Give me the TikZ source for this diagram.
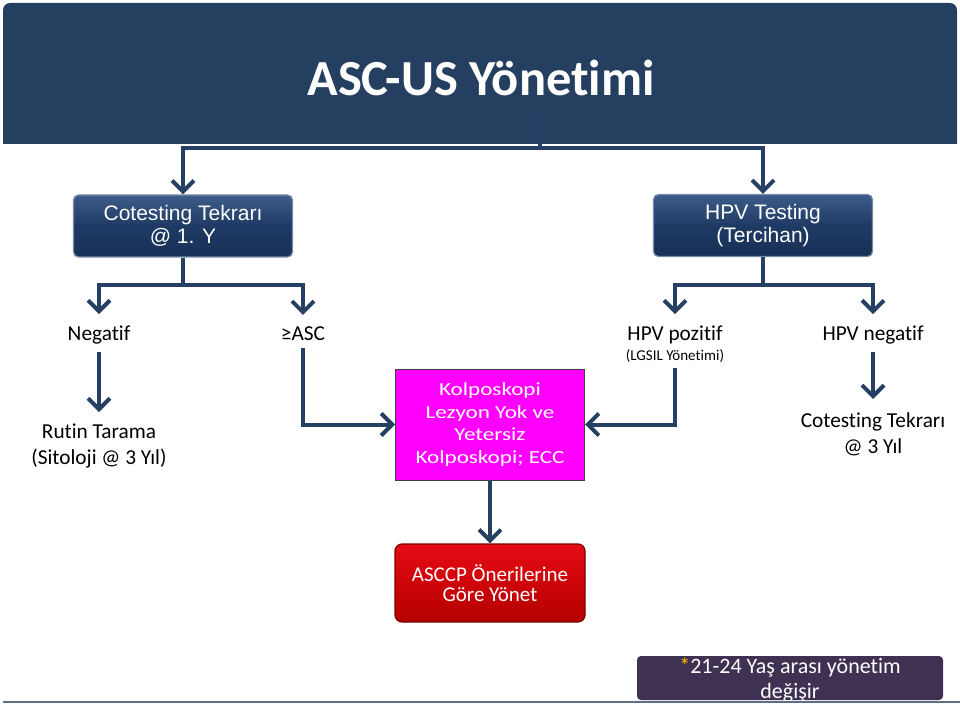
\documentclass[tikz,border=0pt]{standalone}
\usepackage{fontspec}
\setmainfont[Ligatures=NoCommon]{Carlito}
\newfontfamily\arialf{Liberation Sans}
\newfontfamily\widef[FakeStretch=1.25,Ligatures=NoCommon]{Carlito}
\usetikzlibrary{arrows.meta}
\definecolor{navy}{RGB}{36,63,96}
\definecolor{lineblue}{RGB}{37,64,99}
\definecolor{boxtop}{RGB}{62,92,138}
\definecolor{boxmid}{RGB}{30,58,100}
\definecolor{boxbot}{RGB}{24,48,86}
\definecolor{boxedge}{RGB}{120,140,170}
\definecolor{pinkf}{RGB}{255,0,255}
\definecolor{redtop}{RGB}{230,10,20}
\definecolor{redbot}{RGB}{180,0,0}
\definecolor{rededge}{RGB}{120,0,0}
\definecolor{purp}{RGB}{63,49,81}
\definecolor{starc}{RGB}{255,192,0}
\definecolor{baseln}{RGB}{95,110,135}
\begin{document}
\begin{tikzpicture}[x=1pt,y=-1pt,
  conn/.style={draw=lineblue,line width=4pt},
  arr/.style={conn,-{Straight Barb[length=11pt,width=22pt]}},
  lbl/.style={inner sep=0pt,align=center,font=\fontsize{21.3}{26}\selectfont},
  small/.style={inner sep=0pt,align=center,font=\fontsize{15}{18}\selectfont},
  topbox/.style={rounded corners=5pt,draw=boxedge,line width=1.2pt,
    top color=boxtop,bottom color=boxbot,middle color=boxmid,text=white,
    align=center,font=\arialf\fontsize{21}{23}\selectfont,
    minimum width=219pt,minimum height=62pt,inner sep=0pt},
  pinkbox/.style={draw=black!75,line width=1pt,fill=pinkf,text=white,
    align=center,font=\widef\fontsize{18.5}{22.5}\selectfont,
    minimum width=189pt,minimum height=111pt,inner sep=0pt},
  redbox/.style={rounded corners=7pt,draw=rededge,line width=1.2pt,
    top color=redtop,bottom color=redbot,text=white,align=center,
    font=\fontsize{21}{20}\selectfont,
    minimum width=190pt,minimum height=78pt,inner sep=0pt},
  notebox/.style={rounded corners=4pt,fill=purp,minimum width=306pt,
    minimum height=44pt,inner sep=0pt}
]
\useasboundingbox (0,0) rectangle (960,708);
% title band
\fill[navy] (3,144) [rounded corners=7pt]-- (3,3) -- (957,3) [sharp corners]-- (957,144) -- cycle;
\node[text=white,font=\bfseries\fontsize{50.5}{56}\selectfont,inner sep=0pt,anchor=base] (title) at (481,96) {ASC-US Yönetimi};
% bottom rule
\draw[baseln,line width=2pt] (3,702) -- (960,702);

% top boxes
\node[topbox] (cot1) at (183,226) {Cotesting Tekrarı\\@ 1. Y};
\node[topbox] (hpvt) at (763,225.5) {HPV Testing\\(Tercihan)};

% labels
\node[lbl,anchor=base] (neg) at (99,340) {Negatif};
\node[lbl,anchor=base] (asc) at (303,340) {≥ASC};
\node[lbl,anchor=base] (hpvpos) at (675,340) {HPV pozitif};
\node[small,anchor=base] (lgsil) at (675,360) {(LGSIL Yönetimi)};
\node[lbl,anchor=base] (hpvneg) at (873,340) {HPV negatif};
\node[lbl,anchor=base] (rutin) at (99,464) {Rutin Tarama\\(Sitoloji @ 3 Yıl)};
\node[lbl,anchor=base] (cot3) at (873,453) {Cotesting Tekrarı\\@ 3 Yıl};

% pink and red boxes
\node[pinkbox] (pink) at (490,424.5) {Kolposkopi\\Lezyon Yok ve\\Yetersiz\\Kolposkopi; ECC};
\node[redbox] (red) at (490,583) {ASCCP Önerilerine\\Göre Yönet};

% note box
\node[notebox] (note) at (790,678) {};
\begin{scope}
\clip (note.south west) rectangle (note.north east);
\node[inner sep=0pt,anchor=base,text=white,align=center,font=\fontsize{22}{25}\selectfont] (notetext) at (790,698) {\textcolor{starc}{*}21-24 Yaş arası yönetim\\değişir};
\end{scope}

% connectors
\coordinate (tstem) at (540,108);
\coordinate (tjoin) at (540,148);
\draw[conn] (tstem) -- (tjoin);
\draw[arr] (tjoin) -| (cot1.north);
\draw[arr] (tjoin) -| (hpvt.north);

\coordinate (lj) at (183,285);
\draw[conn] (cot1.south) -- (lj);
\draw[arr,shorten >=11pt] (lj) -| (neg.north);
\draw[arr,shorten >=11pt] (lj) -| (asc.north);

\coordinate (rj) at (763,285);
\draw[conn] (hpvt.south) -- (rj);
\draw[arr,shorten >=11pt] (rj) -| (hpvpos.north);
\draw[arr,shorten >=11pt] (rj) -| (hpvneg.north);

\draw[arr,shorten <=8pt,shorten >=11pt] (neg.south) -- (neg.south |- rutin.north);
\draw[arr,shorten <=8pt,shorten >=13pt] (hpvneg.south) -- (hpvneg.south |- cot3.north);
\draw[arr,shorten <=8pt] (asc.south) |- (pink.west);
\draw[arr,shorten <=6pt] (lgsil.south) |- (pink.east);
\draw[arr] (pink.south) -- (red.north);
\end{tikzpicture}
\end{document}
